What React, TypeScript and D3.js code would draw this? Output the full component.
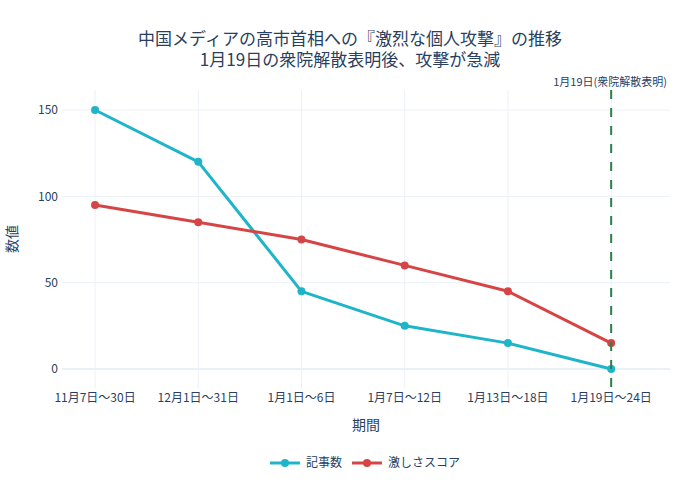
import React from 'react';
import * as d3 from 'd3';

const periods = ['11月7日〜30日', '12月1日〜31日', '1月1日〜6日', '1月7日〜12日', '1月13日〜18日', '1月19日〜24日'];
const articleCounts = [150, 120, 45, 25, 15, 0];
const intensityScores = [95, 85, 75, 60, 45, 15];
const yTicks = [0, 50, 100, 150];
const seriesNames = ['記事数', '激しさスコア'];
const titleLines = ['中国メディアの高市首相への『激烈な個人攻撃』の推移', '1月19日の衆院解散表明後、攻撃が急減'];
const eventIndex = 5;
const eventLabel = '1月19日(衆院解散表明)';

const width = 700;
const height = 500;
const plot = { left: 62, right: 670, top: 90, bottom: 388 };
const textColor = '#2a3f5f';
const gridColor = '#ebf0f8';
const font = '"Noto Sans CJK JP", "Noto Sans", sans-serif';
const colors = ['#1fb5c9', '#d64545'];

const App: React.FC = () => {
  const x = d3.scaleLinear().domain([-0.32, 5.57]).range([plot.left, plot.right]);
  const y = d3.scaleLinear().domain([-11, 161.6]).range([plot.bottom, plot.top]);

  const line = d3.line<number>()
    .x((_, i) => x(i))
    .y(d => y(d));

  const series = [articleCounts, intensityScores];
  const cx = (plot.left + plot.right) / 2;

  return (
    <svg width={width} height={height} style={{ position: 'absolute', left: 0, top: 0, background: '#fff' }}
      fontFamily={font}>
      {/* grid */}
      {periods.map((_, i) => (
        <line key={`vg${i}`} x1={x(i)} x2={x(i)} y1={plot.top} y2={plot.bottom} stroke={gridColor} strokeWidth={1} />
      ))}
      {yTicks.map(t => (
        <line key={`hg${t}`} x1={plot.left} x2={plot.right} y1={y(t)} y2={y(t)} stroke={gridColor} strokeWidth={t === 0 ? 2 : 1} />
      ))}

      {/* y tick labels */}
      {yTicks.map(t => (
        <text key={`yl${t}`} x={plot.left - 4} y={y(t)} dy="0.35em" textAnchor="end" fontSize={12} fill={textColor}>{t}</text>
      ))}
      {/* x tick labels */}
      {periods.map((p, i) => (
        <text key={`xl${i}`} x={x(i)} y={plot.bottom + 14} textAnchor="middle" fontSize={12} fill={textColor}>{p}</text>
      ))}

      {/* series */}
      {series.map((s, k) => (
        <g key={`s${k}`}>
          <path d={line(s) || ''} fill="none" stroke={colors[k]} strokeWidth={3} strokeLinejoin="round" />
          {s.map((v, i) => (
            <circle key={i} cx={x(i)} cy={y(v)} r={4} fill={colors[k]} />
          ))}
        </g>
      ))}

      {/* event line */}
      <line x1={x(eventIndex)} x2={x(eventIndex)} y1={plot.top} y2={plot.bottom}
        stroke="#2e7d4f" strokeWidth={2} strokeDasharray="9,9" />
      <text x={667} y={82} dy="0.35em" textAnchor="end" fontSize={11} fill={textColor}>{eventLabel}</text>

      {/* title (two lines in one text) */}
      <text textAnchor="middle" fontSize={17} fill={textColor}>
        {titleLines.map((t, i) => (
          <tspan key={i} x={350} y={45 + i * 21}>{t}</tspan>
        ))}
      </text>
      <text x={cx} y={430} textAnchor="middle" fontSize={14} fill={textColor}>期間</text>
      <text transform={`translate(12,${(plot.top + plot.bottom) / 2}) rotate(-90)`} textAnchor="middle" dy="0.35em"
        fontSize={14} fill={textColor}>数値</text>

      {/* legend */}
      {seriesNames.map((name, k) => {
        const lx = 270 + k * 82;
        return (
          <g key={`lg${k}`} transform={`translate(${lx},463)`}>
            <line x1={0} x2={30} y1={0} y2={0} stroke={colors[k]} strokeWidth={3} />
            <circle cx={15} cy={0} r={4} fill={colors[k]} />
            <text x={36} y={0} dy="0.35em" fontSize={12} fill={textColor}>{name}</text>
          </g>
        );
      })}
    </svg>
  );
};

export default App;
